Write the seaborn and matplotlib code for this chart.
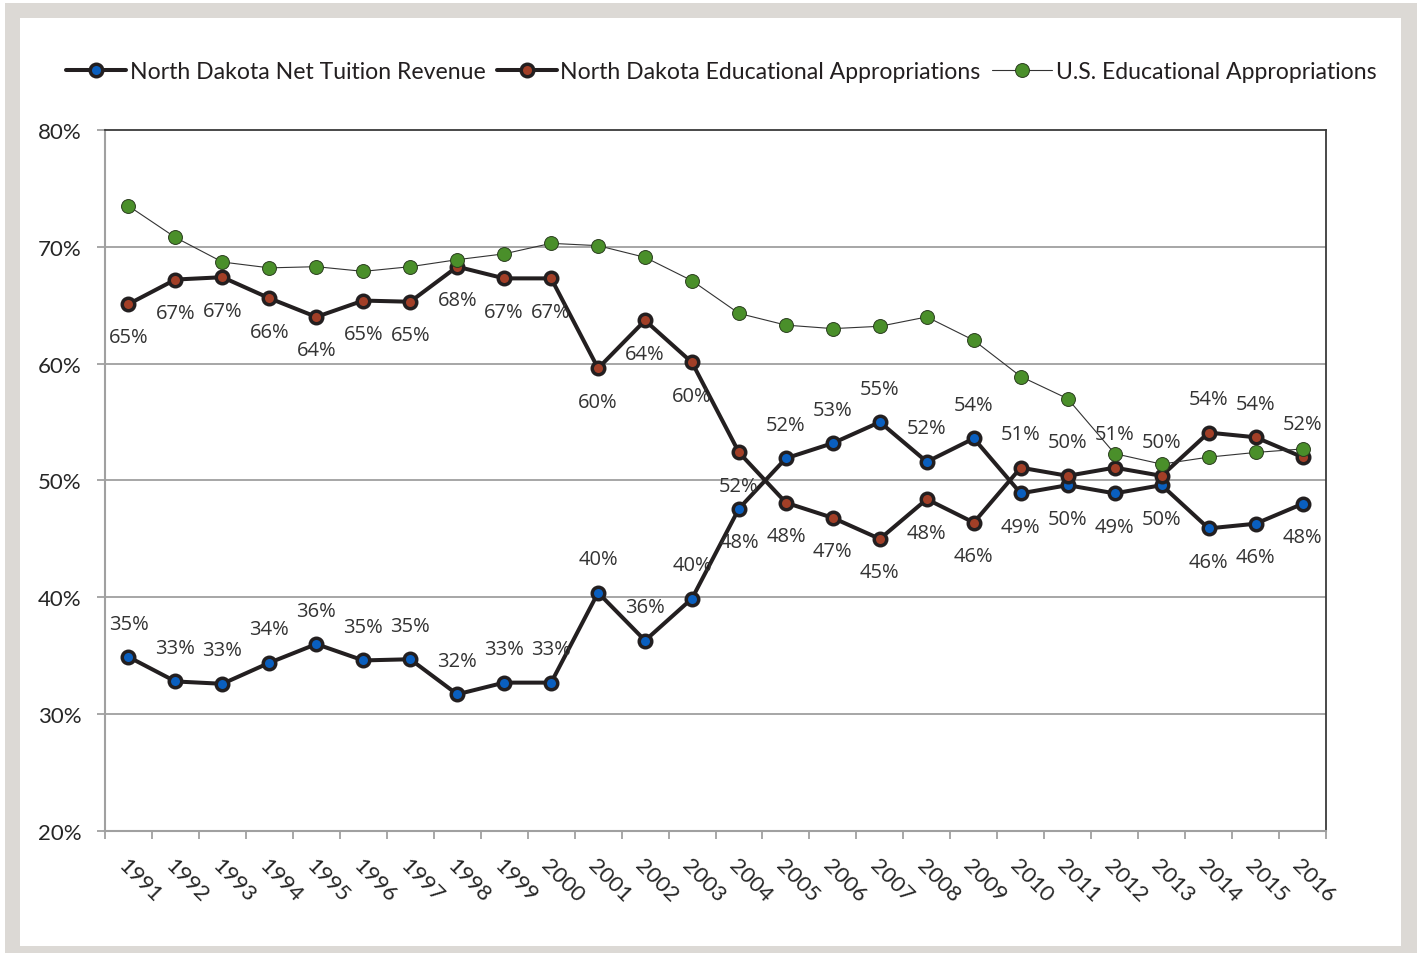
import numpy as np
import pandas as pd
import matplotlib
matplotlib.use("Agg")
import matplotlib.pyplot as plt
from matplotlib.patches import Rectangle
import seaborn as sns

years = list(range(1991, 2017))
tuition = [34.9, 32.8, 32.6, 34.4, 36.0, 34.6, 34.7, 31.7, 32.7, 32.7,
           40.4, 36.3, 39.9, 47.6, 51.9, 53.2, 55.0, 51.6, 53.6, 48.9,
           49.6, 48.9, 49.6, 45.9, 46.3, 48.0]
nd_approps = [65.1, 67.2, 67.4, 65.6, 64.0, 65.4, 65.3, 68.3, 67.3, 67.3,
              59.6, 63.7, 60.1, 52.4, 48.1, 46.8, 45.0, 48.4, 46.4, 51.1,
              50.4, 51.1, 50.4, 54.1, 53.7, 52.0]
us_approps = [73.5, 70.8, 68.7, 68.2, 68.3, 67.9, 68.3, 68.9, 69.4, 70.3,
              70.1, 69.1, 67.1, 64.3, 63.3, 63.0, 63.2, 64.0, 62.0, 58.9,
              57.0, 52.3, 51.4, 52.0, 52.4, 52.7]
series_names = ["North Dakota Net Tuition Revenue",
                "North Dakota Educational Appropriations",
                "U.S. Educational Appropriations"]
# label placement: +1 above the point, -1 below
tuition_label_side = [1] * 13 + [-1] + [1] * 5 + [-1] * 7
approps_label_side = [-1] * 19 + [1] * 7
y_ticks = [20, 30, 40, 50, 60, 70, 80]

sns.set_theme(style="white")
plt.rcParams['font.family'] = ['Lato', 'DejaVu Sans']

W, H = 1417, 954
fig = plt.figure(figsize=(W / 100, H / 100), dpi=100)
fig.patch.set_facecolor("white")
fig.patches.append(Rectangle((5 / W, 0), 1 - 5 / W, 1 - 4 / H,
                             transform=fig.transFigure, facecolor="#dcd9d5",
                             edgecolor="none", zorder=-10))
fig.patches.append(Rectangle((20 / W, 1 - 947 / H), (1401 - 20) / W, (947 - 19) / H,
                             transform=fig.transFigure, facecolor="white",
                             edgecolor="none", zorder=-9))

ax = fig.add_axes([105 / W, 1 - 832 / H, 1221 / W, 701 / H])
ax.set_facecolor("white")

df = pd.DataFrame({"year": years, "tuition": tuition,
                   "nd": nd_approps, "us": us_approps})

black = "#231f20"
sns.lineplot(data=df, x="year", y="tuition", ax=ax, color=black, lw=2.9,
             marker="o", markersize=9, markerfacecolor="#0a5fbf",
             markeredgecolor=black, markeredgewidth=2.5,
             label=series_names[0], zorder=4)
sns.lineplot(data=df, x="year", y="nd", ax=ax, color=black, lw=2.9,
             marker="o", markersize=9, markerfacecolor="#a23f27",
             markeredgecolor=black, markeredgewidth=2.5,
             label=series_names[1], zorder=4)
sns.lineplot(data=df, x="year", y="us", ax=ax, color="#333333", lw=0.8,
             marker="o", markersize=10, markerfacecolor="#4a8f2a",
             markeredgecolor="#2a3d1e", markeredgewidth=0.7,
             label=series_names[2], zorder=5)

# data labels
for yr, v, s in zip(years, tuition, tuition_label_side):
    ax.annotate(f"{v:.0f}%", (yr, v), xytext=(0, 24 * s), textcoords="offset points",
                ha="center", va="center", fontsize=14.5, color="#333333",
                family=["Open Sans", "DejaVu Sans"], zorder=6)
for yr, v, s in zip(years, nd_approps, approps_label_side):
    ax.annotate(f"{v:.0f}%", (yr, v), xytext=(0, 24 * s), textcoords="offset points",
                ha="center", va="center", fontsize=14.5, color="#333333",
                family=["Open Sans", "DejaVu Sans"], zorder=6)

ax.set_xlim(years[0] - 0.5, years[-1] + 0.5)
ax.set_ylim(y_ticks[0], y_ticks[-1])
ax.set_yticks(y_ticks)
ax.set_yticklabels([f"{t}%" for t in y_ticks], fontsize=16, color="#262626")
ax.set_xticks(years)
ax.set_xticklabels([str(y) for y in years], fontsize=16, color="#262626",
                   rotation=-45, ha="left", va="top", rotation_mode="anchor")
ax.set_xticks([y - 0.5 for y in years] + [years[-1] + 0.5], minor=True)
ax.set_xlabel("")
ax.set_ylabel("")

ax.tick_params(axis="x", which="major", length=0, pad=17)
ax.tick_params(axis="x", which="minor", length=6, width=1.3, color="#a0a0a0",
               direction="out", bottom=True)
ax.tick_params(axis="y", which="major", length=6, width=1.3, color="#a0a0a0",
               direction="out", left=True, pad=11)

for y in y_ticks[1:-1]:
    ax.axhline(y, color="#a6a6a6", lw=1.4, zorder=1)

for side in ["left", "bottom"]:
    ax.spines[side].set_color("#a0a0a0")
    ax.spines[side].set_linewidth(1.5)
for side in ["top", "right"]:
    ax.spines[side].set_color("#3a3a3a")
    ax.spines[side].set_linewidth(1.3)
    ax.spines[side].set_visible(True)

if ax.legend_:
    ax.legend_.remove()
handles, labels = ax.get_legend_handles_labels()
fig.legend(handles, labels, loc="center", bbox_to_anchor=(0.509, 1 - 73 / H),
           ncol=3, frameon=False, fontsize=16.6, handlelength=2.6,
           handletextpad=0.15, columnspacing=0.5, labelcolor="#231f20")

fig.savefig("out.png", dpi=100)
